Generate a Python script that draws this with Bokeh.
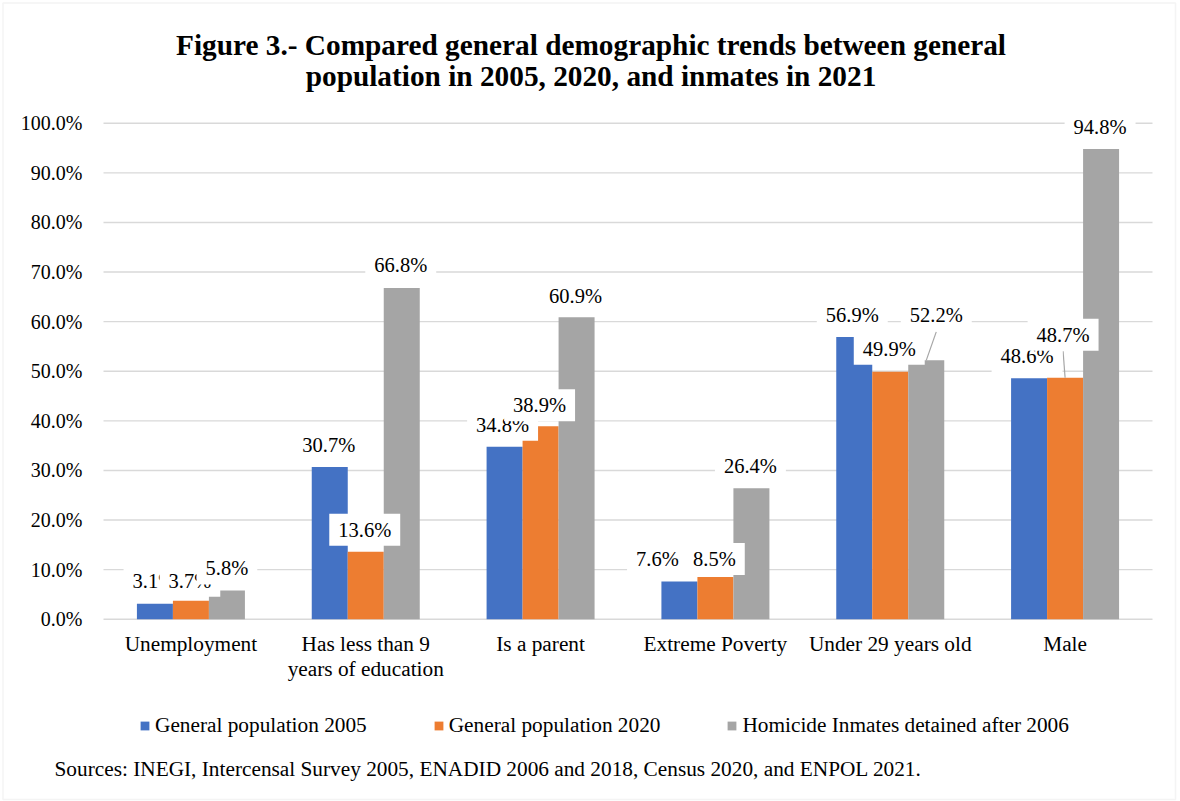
import json

from bokeh.plotting import figure
from bokeh.models import (ColumnDataSource, Range1d, FixedTicker, PrintfTickFormatter,
                          CustomJSTickFormatter, Legend, LegendItem, Label, BoxAnnotation,
                          LinearAxis)
from bokeh.core.properties import value
from bokeh.embed import file_html
from bokeh.resources import INLINE

# ---- data -------------------------------------------------------------
categories = ["Unemployment", "Has less than 9 years of education", "Is a parent",
              "Extreme Poverty", "Under 29 years old", "Male"]
# how each category name is broken over the two tick-label lines
tick_line1 = ["Unemployment", "Has less than 9", "Is a parent",
              "Extreme Poverty", "Under 29 years old", "Male"]
tick_line2 = ["", "years of education", "", "", "", ""]

general_2005 = [3.1, 30.7, 34.8, 7.6, 56.9, 48.6]
general_2020 = [3.7, 13.6, 38.9, 8.5, 49.9, 48.7]
inmates_2021 = [5.8, 66.8, 60.9, 26.4, 52.2, 94.8]

series_names = ["General population 2005", "General population 2020",
                "Homicide Inmates detained after 2006"]
y_ticks = [0, 10, 20, 30, 40, 50, 60, 70, 80, 90, 100]

title_lines = ["Figure 3.- Compared general demographic trends between general",
               "population in 2005, 2020, and inmates in 2021"]
source_note = ("Sources: INEGI, Intercensal Survey 2005, ENADID 2006 and 2018, "
               "Census 2020, and ENPOL 2021.")

# ---- styling / layout ---------------------------------------------------
COLORS = ["#4472C4", "#ED7D31", "#A5A5A5"]
GRID = "#D9D9D9"
FONT = "Liberation Serif"
W, H = 1180, 801
N = len(categories)
CH_L, CH_R = 103, 1152          # left / right edge of the bar area (canvas px)
ZERO_PX, HUNDRED_PX = 618.7, 122.8
PXC = (CH_R - CH_L) / N          # px per category slot
PXP = (ZERO_PX - HUNDRED_PX) / 100   # px per percentage point
BAR_W = 36 / PXC
OFFSETS = [-BAR_W, 0.0, BAR_W]

# label shift from the top centre of each bar, in pixels (dx right, dy up)
label_shift = [
    [(-1, 23), (-1, 22), (-2, 22), (-22, 23), (-2, 22), (-2, 22)],
    [(-1, 20), (-1, 22), (-1, 21), (-1, 18), (-1, 23), (-2, 43)],
    [(0, 22), (-1, 23), (-1, 21), (-1, 22), (10, 45), (-1, 22)],
]
# (series, category) pairs whose label is tied back to its bar
leaders = [(1, 5), (2, 4)]
BOX_HALF = 16.5

# the frame covers the whole canvas; the bar area sits inside it
x_range = Range1d(-CH_L / PXC, N + (W - CH_R) / PXC)
y_range = Range1d(-(H - ZERO_PX) / PXP, ZERO_PX / PXP)

p = figure(x_range=x_range, y_range=y_range, width=W, height=H,
           output_backend="svg", toolbar_location=None, x_axis_location=None,
           y_axis_location=None)
p.min_border = 0
p.outline_line_color = None
p.background_fill_color = "white"
p.border_fill_color = "white"
p.xgrid.visible = False
p.ygrid.visible = False

centers = [i + 0.5 for i in range(N)]

# horizontal gridlines across the bar area
p.segment(x0=0, x1=N, y0=y_ticks, y1=y_ticks, line_color=GRID, line_width=1.4)


def style_axis(ax, size):
    ax.axis_line_color = None
    ax.major_tick_line_color = None
    ax.minor_tick_line_color = None
    ax.major_tick_out = 0
    ax.major_tick_in = 0
    ax.major_label_text_font = FONT
    ax.major_label_text_font_size = size
    ax.major_label_text_color = "#000000"


yaxis = LinearAxis(ticker=FixedTicker(ticks=y_ticks),
                   formatter=PrintfTickFormatter(format="%.1f%%"), fixed_location=0)
style_axis(yaxis, "20px")
yaxis.major_label_standoff = 21
p.add_layout(yaxis, "left")

for lines, standoff in ((tick_line1, 13), (tick_line2, 38)):
    code = ("const names = %s; const k = Math.round(tick - 0.5);"
            " return (k >= 0 && k < names.length) ? names[k] : '';" % json.dumps(lines))
    xaxis = LinearAxis(ticker=FixedTicker(ticks=centers),
                       formatter=CustomJSTickFormatter(code=code), fixed_location=0)
    style_axis(xaxis, "21.3px")
    xaxis.major_label_standoff = standoff
    p.add_layout(xaxis, "below")

series = [general_2005, general_2020, inmates_2021]
bar_renderers = []
for k, vals in enumerate(series):
    src = ColumnDataSource(dict(x=[c + OFFSETS[k] for c in centers], val=vals))
    r = p.vbar(x="x", top="val", bottom=0, width=BAR_W, source=src,
               fill_color=COLORS[k], line_color=None)
    bar_renderers.append(r)

# leader lines from moved labels back to their bars
for k, i in leaders:
    dx, dy = label_shift[k][i]
    v = series[k][i]
    bx = centers[i] + OFFSETS[k]
    p.segment(x0=[bx + dx / PXC], y0=[v + (dy - BOX_HALF) / PXP], x1=[bx], y1=[v],
              line_color="#A6A6A6", line_width=1.2)

# value labels on white boxes, one series after another
for k, vals in enumerate(series):
    src = ColumnDataSource(dict(
        x=[c + OFFSETS[k] + label_shift[k][i][0] / PXC for i, c in enumerate(centers)],
        y=[v + label_shift[k][i][1] / PXP for i, v in enumerate(vals)],
        txt=[f"{v:.1f}%" for v in vals]))
    p.text(x="x", y="y", text="txt", source=src, text_font=value(FONT),
           text_font_size="20.5px", text_color="#000000", text_align="center",
           text_baseline="middle", background_fill_color="white",
           padding=dict(left=9, right=9, top=5, bottom=5))

legend = Legend(items=[LegendItem(label=series_names[k], renderers=[bar_renderers[k]])
                       for k in range(3)],
                orientation="horizontal", location=(139, 63), margin=0,
                glyph_width=11, glyph_height=11, label_standoff=5, spacing=66,
                padding=0, border_line_color=None, background_fill_alpha=0,
                label_text_font=FONT, label_text_font_size="21.3px",
                label_text_color="#000000")
p.add_layout(legend, "center")

for j, line in enumerate(title_lines):
    p.add_layout(Label(x=590.5, y=44.2 + 31.6 * j, x_units="canvas", y_units="canvas",
                       text=line, text_align="center", text_baseline="alphabetic",
                       text_font=FONT, text_font_size="29.3px", text_font_style="bold",
                       text_color="#000000"))

p.add_layout(Label(x=54, y=768.5, x_units="canvas", y_units="canvas", text=source_note,
                   text_align="left", text_baseline="alphabetic", text_font=FONT,
                   text_font_size="21.3px", text_color="#000000"))

p.add_layout(BoxAnnotation(left=2.5, right=1175, top=2.5, bottom=799,
                           left_units="canvas", right_units="canvas",
                           top_units="canvas", bottom_units="canvas",
                           fill_alpha=0, line_color=GRID, line_width=1.5))

open("out.html", "w").write(file_html(p, INLINE))
